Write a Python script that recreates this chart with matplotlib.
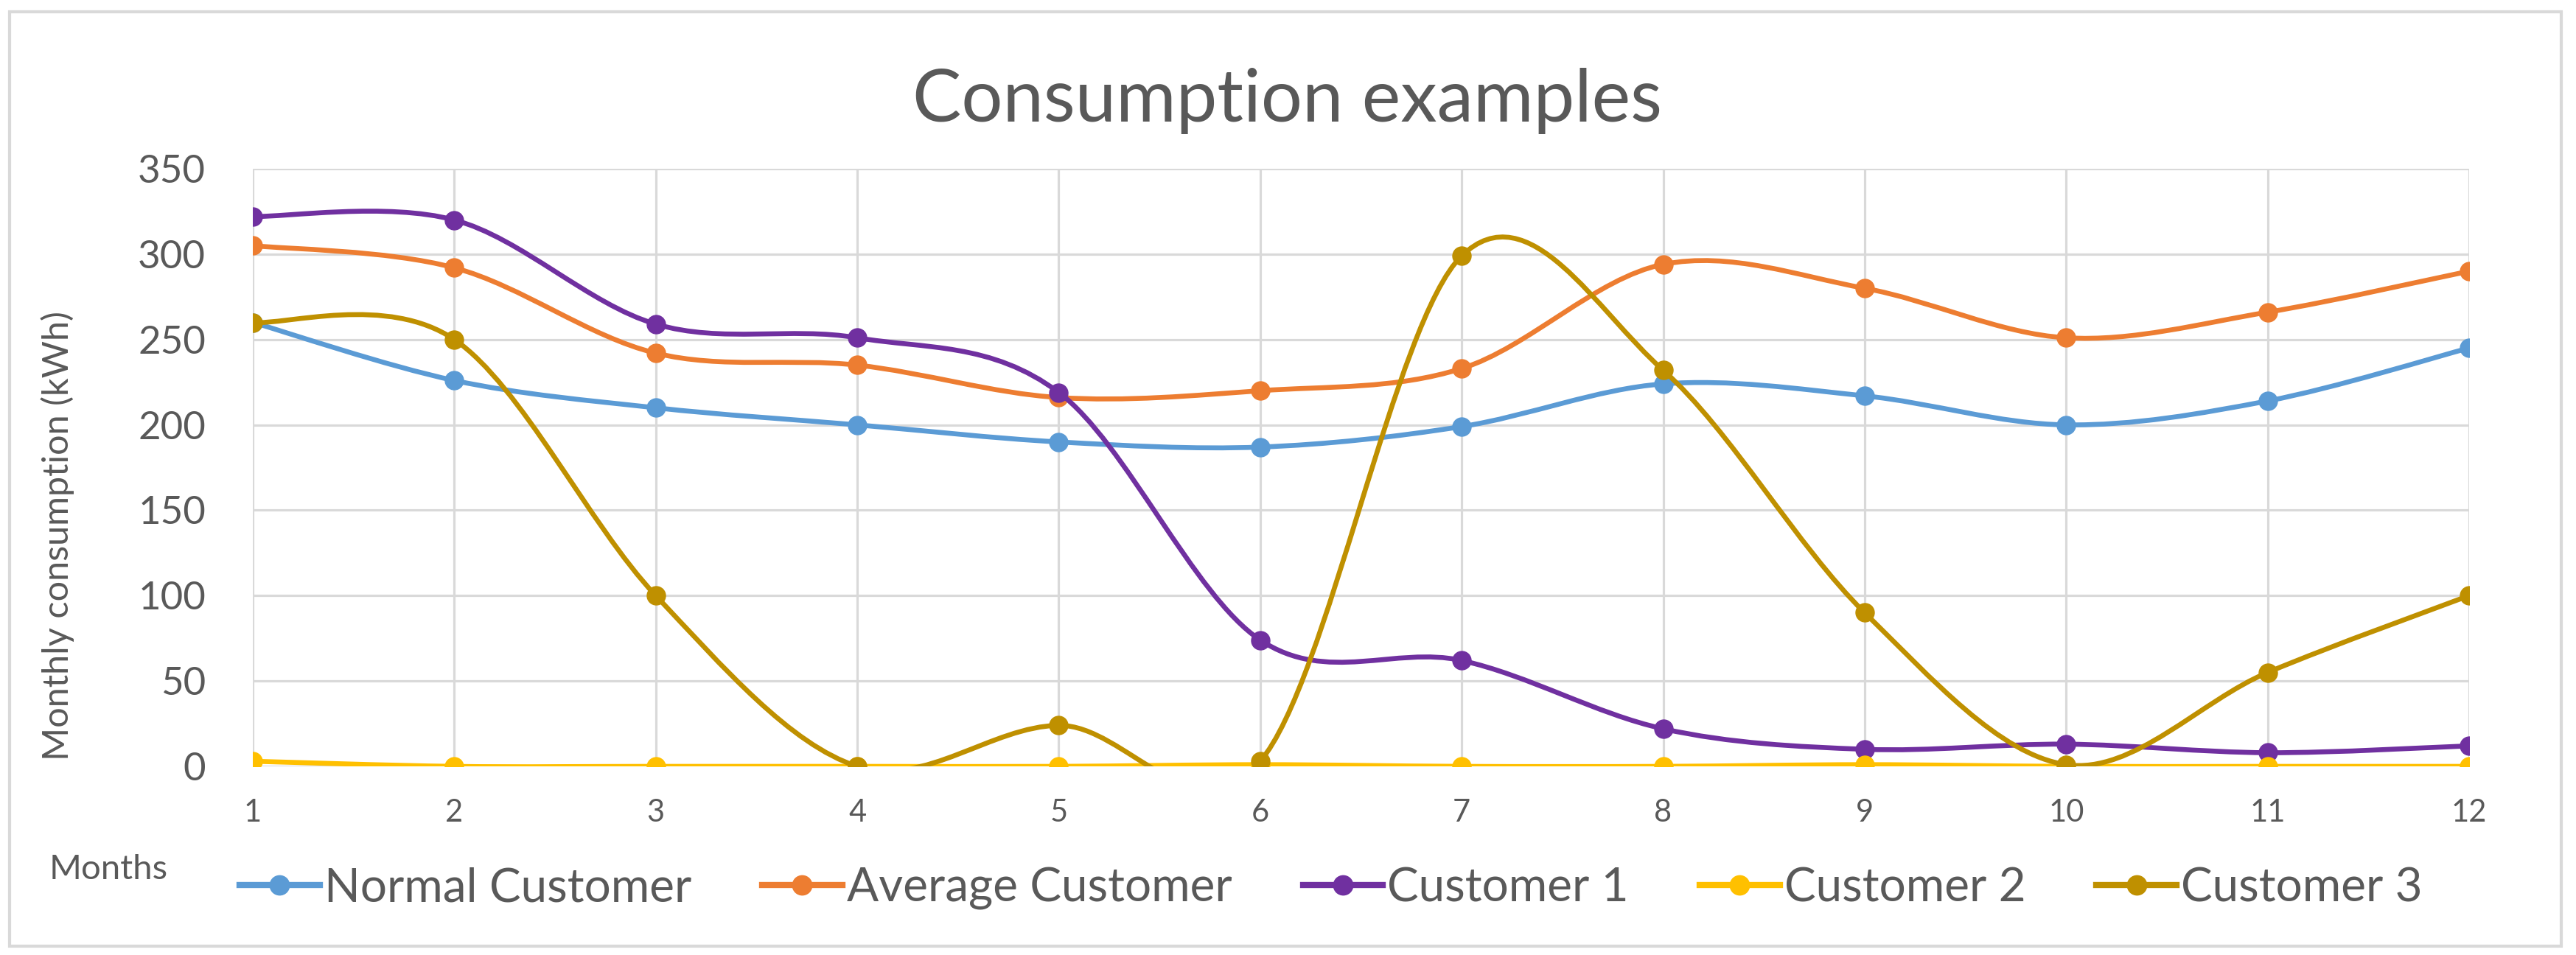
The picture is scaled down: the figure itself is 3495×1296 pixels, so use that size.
import numpy as np
import matplotlib
matplotlib.use("Agg")
import matplotlib.pyplot as plt
from matplotlib.path import Path
from matplotlib.patches import PathPatch, Rectangle
from matplotlib.lines import Line2D

plt.rcParams["font.family"] = ["Lato", "DejaVu Sans"]

# Monthly consumption (kWh)
months = [1, 2, 3, 4, 5, 6, 7, 8, 9, 10, 11, 12]
normal_customer = [260, 226, 210, 200, 190, 187, 199, 224, 217, 200, 214, 245]
average_customer = [305, 292, 242, 235, 216, 220, 233, 294, 280, 251, 266, 290]
customer_1 = [322, 320, 259, 251, 219, 74, 62, 22, 10, 13, 8, 12]
customer_2 = [3, 0, 0, 0, 0, 1, 0, 0, 1, 0, 0, 0]
customer_3 = [260, 250, 100, 0, 24, 3, 299, 232, 90, 1, 55, 100]

series = [
    ("Normal Customer", normal_customer, "#5B9BD5"),
    ("Average Customer", average_customer, "#ED7D31"),
    ("Customer 1", customer_1, "#7030A0"),
    ("Customer 2", customer_2, "#FFC000"),
    ("Customer 3", customer_3, "#BF9000"),
]

TEXT = "#595959"
GRID = "#D9D9D9"


def smooth_path(x, y):
    # Excel-like smoothed line: Catmull-Rom segments as cubic Beziers
    pts = np.column_stack([x, y]).astype(float)
    n = len(pts)
    verts = [pts[0]]
    codes = [Path.MOVETO]
    for i in range(n - 1):
        p0 = pts[max(i - 1, 0)]
        p1 = pts[i]
        p2 = pts[i + 1]
        p3 = pts[min(i + 2, n - 1)]
        c1 = p1 + (p2 - p0) / 6.0
        c2 = p2 - (p3 - p1) / 6.0
        verts += [c1, c2, p2]
        codes += [Path.CURVE4] * 3
    return Path(verts, codes)


fig = plt.figure(figsize=(34.95, 12.96), dpi=100)
ax = fig.add_axes([343 / 3495, 1 - 1040 / 1296, (3350 - 343) / 3495, (1040 - 229) / 1296])

handles = []
for k, (name, vals, color) in enumerate(series):
    patch = PathPatch(smooth_path(months, vals), facecolor="none", edgecolor=color,
                      lw=4.8, capstyle="round", joinstyle="round", zorder=3 + 2 * k)
    ax.add_patch(patch)
    ax.plot(months, vals, "o", color=color, ms=18, mec=color, zorder=4 + 2 * k)
    handles.append(Line2D([], [], color=color, lw=6, marker="o", ms=19, label=name))

ax.set_xlim(1, 12)
ax.set_ylim(0, 350)
ax.set_xticks(months)
ax.set_yticks(np.arange(0, 351, 50))
ax.grid(True, color=GRID, lw=2.3)
ax.set_axisbelow(True)
for s in ax.spines.values():
    s.set_visible(False)
ax.tick_params(axis="y", length=0, pad=46, labelsize=38, labelcolor=TEXT)
ax.tick_params(axis="x", length=0, pad=32, labelsize=30, labelcolor=TEXT)

fig.text(1746 / 3495, 1 - 165 / 1296, "Consumption examples", ha="center", va="baseline",
         fontsize=71.5, color=TEXT)
fig.text(78 / 3495, 1 - 727 / 1296, "Monthly consumption (kWh)", rotation=90,
         ha="center", va="center", fontsize=35, color=TEXT)
fig.text(67 / 3495, 1 - 1193 / 1296, "Months", ha="left", va="baseline",
         fontsize=34, color=TEXT)

fig.legend(handles=handles, loc="center", bbox_to_anchor=(1806 / 3495, 1 - 1206 / 1296),
           ncol=5, frameon=False, fontsize=46, labelcolor=TEXT,
           handlelength=1.7, handletextpad=0.1, columnspacing=1.5)

# chart area border
fig.patches.append(Rectangle((13 / 3495, 1 - 1284 / 1296), (3475 - 13) / 3495, (1284 - 16) / 1296,
                             transform=fig.transFigure, fill=False, edgecolor=GRID, lw=3))

fig.savefig("out.png", dpi=100, facecolor="white")
